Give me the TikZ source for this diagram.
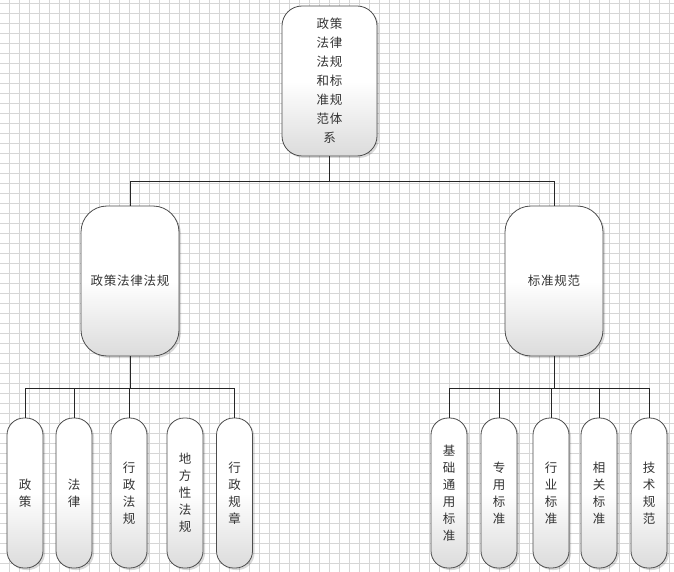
\documentclass[tikz,border=0pt]{standalone}
\usepackage{fontspec}
\newfontfamily\cjk[LetterSpace=6]{Noto Sans CJK SC}
\usetikzlibrary{shadows}
\tikzset{
  gridline/.style={draw=black!16, line width=0.5pt},
  conn/.style={draw=black!85, line width=0.9pt},
  boxbase/.style={draw=black!70, line width=0.8pt, top color=white, bottom color=black!14, middle color=white,
    drop shadow={shadow xshift=2pt, shadow yshift=-2pt, opacity=0.15, fill=black},
    text=black!80, align=center, inner sep=0pt, minimum height=150pt},
  rootbox/.style={boxbase, rounded corners=20pt, minimum width=95pt, font=\cjk\fontsize{12.5}{19}\selectfont},
  midbox/.style={boxbase, rounded corners=26pt, minimum width=98pt, font=\cjk\fontsize{12.5}{17}\selectfont},
  leafbox/.style={boxbase, rounded corners=17pt, minimum width=36pt, font=\cjk\fontsize{12.5}{17}\selectfont}
}
\begin{document}
\begin{tikzpicture}[x=1pt,y=-1pt]
\useasboundingbox (0,0) rectangle (674,572);
\fill[white] (0,0) rectangle (674,572);
\foreach \i in {0,...,66} \draw[gridline] (9.3+10*\i,0) -- (9.3+10*\i,572);
\foreach \j in {0,...,56} \draw[gridline] (0,3.3+10*\j) -- (674,3.3+10*\j);

\node[rootbox] (root) at (329.5,81) {政策\\法律\\法规\\和标\\准规\\范体\\系};
\node[midbox] (L) at (130,281) {政策法律法规};
\node[midbox] (R) at (554,281) {标准规范};

\node[leafbox] (l1) at (25,493) {政\\策};
\node[leafbox] (l2) at (74,493) {法\\律};
\node[leafbox] (l3) at (129,493) {行\\政\\法\\规};
\node[leafbox] (l4) at (185,493) {地\\方\\性\\法\\规};
\node[leafbox] (l5) at (234.5,493) {行\\政\\规\\章};

\node[leafbox] (r1) at (449,493) {基\\础\\通\\用\\标\\准};
\node[leafbox] (r2) at (499,493) {专\\用\\标\\准};
\node[leafbox] (r3) at (551,493) {行\\业\\标\\准};
\node[leafbox] (r4) at (599,493) {相\\关\\标\\准};
\node[leafbox] (r5) at (649,493) {技\\术\\规\\范};

\draw[conn] (root.south) -- ++(0,25) -| (L.north);
\draw[conn] (root.south) -- ++(0,25) -| (R.north);
\foreach \t in {l1,l2,l3,l5} \draw[conn] (L.south) -- ++(0,32) -| (\t.north);
\foreach \t in {r1,r2,r3,r4,r5} \draw[conn] (R.south) -- ++(0,32) -| (\t.north);
\end{tikzpicture}
\end{document}
